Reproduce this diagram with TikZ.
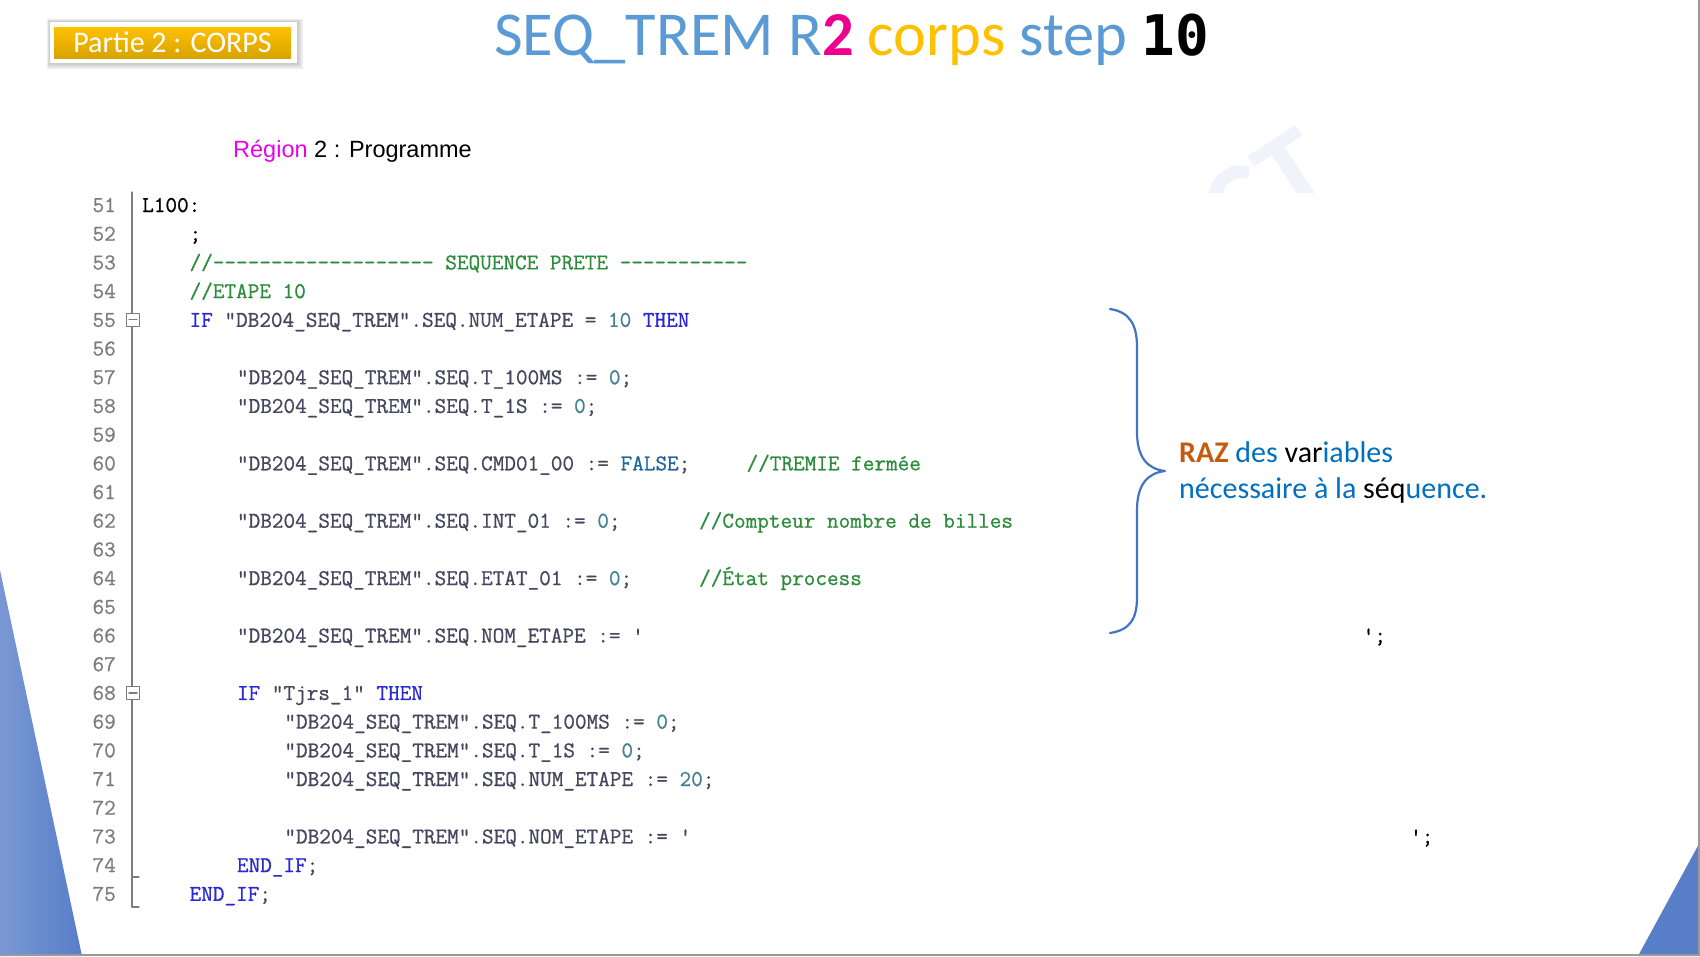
\documentclass[tikz,border=0pt]{standalone}
\usepackage{fontspec}
\setmainfont{Carlito}
\setmonofont{Latin Modern Mono}[FakeBold=0.8]
\newfontfamily\arialfont{Liberation Sans}
\newfontfamily\titlemono{DejaVu Sans Mono}

\definecolor{titleblue}{RGB}{91,155,213}
\definecolor{titlegold}{RGB}{255,192,0}
\definecolor{pinkreg}{RGB}{235,0,235}
\definecolor{razorange}{RGB}{197,90,17}
\definecolor{razblue}{RGB}{0,112,192}
\definecolor{bracecol}{RGB}{68,114,196}
\definecolor{kwblue}{RGB}{40,40,215}
\definecolor{strgray}{RGB}{70,70,95}
\definecolor{numteal}{RGB}{70,130,150}
\definecolor{cmtgreen}{RGB}{45,140,60}
\definecolor{lngray}{RGB}{125,125,125}
\definecolor{falseblue}{RGB}{30,100,160}
\definecolor{wmark}{RGB}{240,244,250}
\definecolor{triblue}{RGB}{88,126,200}

\newcommand{\kwd}[1]{\textcolor{kwblue}{#1}}
\newcommand{\numc}[1]{\textcolor{numteal}{#1}}
\newcommand{\cmt}[1]{\textcolor{cmtgreen}{#1}}
% one piece of code: name, column, line number, text
\newcommand{\codeln}[4]{\node[code] (#1) at ({142+#2*11.85},{-212-(#3-51)*28.7}) {#4};}

\tikzset{
  code/.style={anchor=base west, inner sep=0pt, text=strgray, font=\ttfamily\fontsize{22.57}{27}\selectfont},
  lnum/.style={anchor=base east, inner sep=0pt, text=lngray, font=\ttfamily\fontsize{22.57}{27}\selectfont},
  foldbox/.style={draw=lngray, fill=white, minimum size=13pt, inner sep=0pt, line width=1.2pt},
  raztxt/.style={anchor=base west, inner sep=0pt, font=\fontsize{30}{36}\selectfont}
}

\begin{document}
\begin{tikzpicture}[line cap=round,line join=round,x=1pt,y=1pt]
\useasboundingbox (0,0) rectangle (1700,-956);
\fill[white] (0,0) rectangle (1700,-956);

% watermark
\begin{scope}
\clip (1150,-100) rectangle (1400,-192);
\node[rotate=33, text=wmark, font=\bfseries\fontsize{120}{120}\selectfont] (wm) at (1266,-191) {CT};
\end{scope}

% tag top left
\foreach \g in {6,4,2}
  \fill[black, opacity=0.07] ({50-\g/2},{-22+\g/2}) rectangle ({297+\g},{-63-\g});
\fill[white] (50,-22) rectangle (297,-63);
\shade[top color=titlegold, bottom color=titlegold!85!black] (54,-27) rectangle (291,-58);
\node[anchor=base, inner sep=0pt, text=white, font=\fontsize{30}{36}\selectfont] (partie) at (172.5,-52) {Partie 2 : CORPS};

% title
\node[anchor=base west, inner sep=0pt, font=\fontsize{62.5}{62.5}\selectfont] (title) at (494,-55)
  {\textcolor{titleblue}{SEQ\_TREM R}\textcolor{magenta}{\bfseries 2} \textcolor{titlegold}{corps} \textcolor{titleblue}{step} {\titlemono\bfseries\fontsize{56}{56}\selectfont 10}};

\node[anchor=base west, inner sep=0pt, font=\arialfont\fontsize{23.5}{28}\selectfont] (region) at (233,-157)
  {\textcolor{pinkreg}{Région} 2 : Programme};

% gutter
\foreach \n in {51,...,75}
  \node[lnum] (n\n) at (116,{-212-(\n-51)*28.7}) {\n};
\draw[lngray, line width=1.3pt] (132,-192) -- (132,-907);
\draw[lngray, line width=1.3pt] (132,-877) -- (139,-877);
\draw[lngray, line width=1.3pt] (132,-907) -- (139,-907);
\node[foldbox] (f55) at (133,{-212-4*28.7+7}) {};
\draw[lngray, line width=1.2pt] ([xshift=3pt]f55.west) -- ([xshift=-3pt]f55.east);
\node[foldbox] (f68) at (133,{-212-17*28.7+7}) {};
\draw[lngray, line width=1.2pt] ([xshift=3pt]f68.west) -- ([xshift=-3pt]f68.east);

% code
\codeln{l51}{0}{51}{\textcolor{black}{L100:}}
\codeln{l52}{4}{52}{\textcolor{black}{;}}
\codeln{l53}{4}{53}{\cmt{//------------------- SEQUENCE PRETE -----------}}
\codeln{l54}{4}{54}{\cmt{//ETAPE 10}}
\codeln{l55}{4}{55}{\kwd{IF} "DB204\_SEQ\_TREM".SEQ.NUM\_ETAPE = \numc{10} \kwd{THEN}}
\codeln{l57}{8}{57}{"DB204\_SEQ\_TREM".SEQ.T\_100MS := \numc{0};}
\codeln{l58}{8}{58}{"DB204\_SEQ\_TREM".SEQ.T\_1S := \numc{0};}
\codeln{l60}{8}{60}{"DB204\_SEQ\_TREM".SEQ.CMD01\_00 := \textcolor{falseblue}{FALSE};}
\codeln{c60}{51}{60}{\cmt{//TREMIE fermée}}
\codeln{l62}{8}{62}{"DB204\_SEQ\_TREM".SEQ.INT\_01 := \numc{0};}
\codeln{c62}{47}{62}{\cmt{//Compteur nombre de billes}}
\codeln{l64}{8}{64}{"DB204\_SEQ\_TREM".SEQ.ETAT\_01 := \numc{0};}
\codeln{c64}{47}{64}{\cmt{//État process}}
\codeln{l66}{8}{66}{"DB204\_SEQ\_TREM".SEQ.NOM\_ETAPE := '}
\codeln{e66}{103}{66}{\textcolor{black}{';}}
\codeln{l68}{8}{68}{\kwd{IF} "Tjrs\_1" \kwd{THEN}}
\codeln{l69}{12}{69}{"DB204\_SEQ\_TREM".SEQ.T\_100MS := \numc{0};}
\codeln{l70}{12}{70}{"DB204\_SEQ\_TREM".SEQ.T\_1S := \numc{0};}
\codeln{l71}{12}{71}{"DB204\_SEQ\_TREM".SEQ.NUM\_ETAPE := \numc{20};}
\codeln{l73}{12}{73}{"DB204\_SEQ\_TREM".SEQ.NOM\_ETAPE := '}
\codeln{e73}{107}{73}{\textcolor{black}{';}}
\codeln{l74}{8}{74}{\kwd{END\_IF};}
\codeln{l75}{4}{75}{\kwd{END\_IF};}

% brace and note
\draw[bracecol, line width=2.2pt] (1110,-309) .. controls (1130,-312) and (1137,-325) .. (1137,-347)
  -- (1137,-432) .. controls (1137,-458) and (1148,-469) .. (1165,-471)
  .. controls (1148,-473) and (1137,-484) .. (1137,-510)
  -- (1137,-597) .. controls (1137,-619) and (1130,-630) .. (1110,-633);
\node[raztxt] (raz1) at (1179,-462) {\textcolor{razorange}{\bfseries RAZ} \textcolor{razblue}{des} var\textcolor{razblue}{iables}};
\node[raztxt] (raz2) at (1179,-498) {\textcolor{razblue}{nécessaire à la} séq\textcolor{razblue}{uence.}};

% corners
\shade[left color=triblue!80!white, right color=triblue] (0,-570) -- (82,-956) -- (0,-956) -- cycle;
\fill[triblue] (1700,-842) -- (1638,-956) -- (1700,-956) -- cycle;
\draw[black!40, line width=2pt] (1699,0) -- (1699,-955) -- (0,-955);
\end{tikzpicture}
\end{document}
